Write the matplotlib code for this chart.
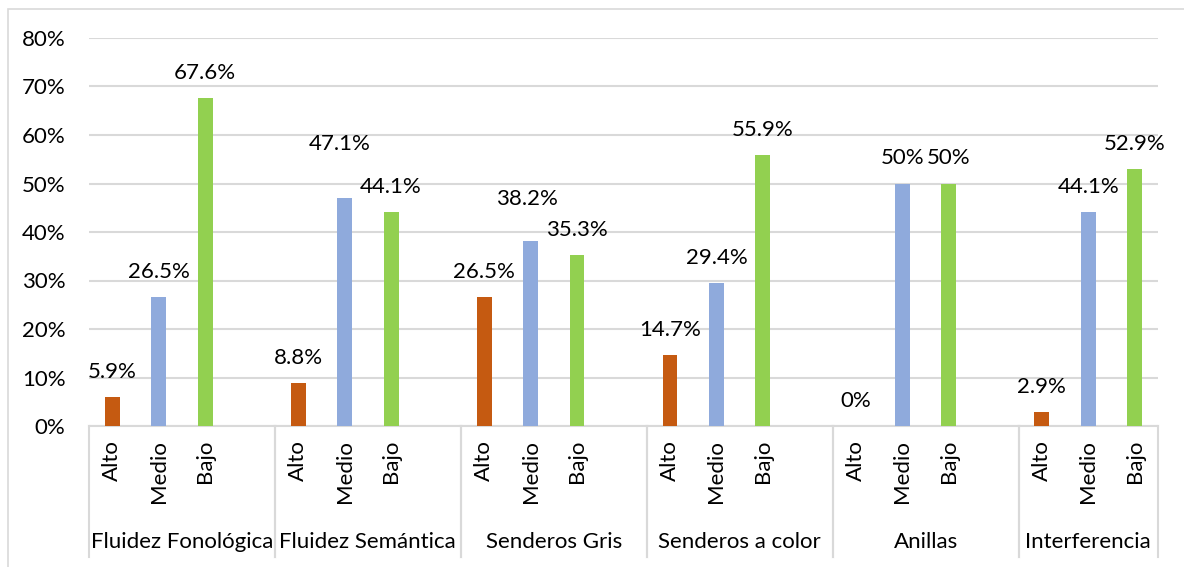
import numpy as np
import matplotlib
matplotlib.use('Agg')
import matplotlib.pyplot as plt
from matplotlib.patches import Rectangle
from matplotlib.lines import Line2D

# data
groups = ['Fluidez Fonológica', 'Fluidez Semántica', 'Senderos Gris',
          'Senderos a color', 'Anillas', 'Interferencia']
levels = ['Alto', 'Medio', 'Bajo']
alto = [5.9, 8.8, 26.5, 14.7, 0.0, 2.9]
medio = [26.5, 47.1, 38.2, 29.4, 50.0, 44.1]
bajo = [67.6, 44.1, 35.3, 55.9, 50.0, 52.9]
label_text = [['5.9%', '26.5%', '67.6%'],
              ['8.8%', '47.1%', '44.1%'],
              ['26.5%', '38.2%', '35.3%'],
              ['14.7%', '29.4%', '55.9%'],
              ['0%', '50%', '50%'],
              ['2.9%', '44.1%', '52.9%']]
# extra nudges of the data labels (pixels), as placed in the original
label_nudge = {(1, 1): (-5, 29), (2, 1): (-4, 17)}

colors = ['#C55A11', '#8FAADC', '#92D050']
FONT = 'Lato'
FS = 16

W, H = 1184, 567
fig = plt.figure(figsize=(W / 100, H / 100), dpi=100)
L, R, T, B = 89, 1158, 38, 426
ax = fig.add_axes([L / W, 1 - B / H, (R - L) / W, (B - T) / H])

# outer chart border
fig.add_artist(Rectangle((8 / W, -0.1), 1.2, 1 - 9 / H + 0.1, transform=fig.transFigure,
                         fill=False, edgecolor='#d9d9d9', lw=1.2))

series = [alto, medio, bajo]
nslots = len(groups) * 4 - 1
for s, vals in enumerate(series):
    x = np.arange(len(groups)) * 4 + s
    ax.bar(x, np.array(vals) / 100, width=0.32, color=colors[s], zorder=3)
    for g, v in enumerate(vals):
        dx, dy = label_nudge.get((g, s), (0, 0))
        ax.annotate(label_text[g][s], (x[g], v / 100), xytext=(dx, 25 + dy),
                    textcoords='offset pixels', ha='center', va='center',
                    fontsize=FS, family=FONT, color='#000000')

ax.set_xlim(-0.5, nslots - 0.5)
ax.set_ylim(0, 0.8)
ax.set_yticks(np.arange(0, 0.81, 0.1))
ax.set_yticklabels(['%d%%' % round(t * 100) for t in np.arange(0, 0.81, 0.1)],
                   fontsize=FS, family=FONT)
ax.tick_params(axis='y', length=0, pad=17)
ax.set_xticks([])
ax.grid(axis='y', color='#d9d9d9', lw=1.5, zorder=0)
for sp in ['top', 'right', 'left']:
    ax.spines[sp].set_visible(False)
ax.spines['bottom'].set_color('#d9d9d9')
ax.spines['bottom'].set_linewidth(1.5)

# multi-level category axis
axh = B - T
sep_bottom = -131 / axh
for g, name in enumerate(groups):
    for s, lev in enumerate(levels):
        ax.annotate(lev, (g * 4 + s, 0), xycoords=('data', 'axes fraction'),
                    xytext=(0, -14), textcoords='offset pixels', rotation=90,
                    ha='center', va='top', fontsize=FS, family=FONT)
    left_edge = g * 4 - 0.5
    right_edge = min(g * 4 + 3.5, nslots - 0.5)
    ax.annotate(name, ((left_edge + right_edge) / 2, 0), xycoords=('data', 'axes fraction'),
                xytext=(0, -116), textcoords='offset pixels', ha='center', va='center',
                fontsize=FS, family=FONT)
    for xe in [left_edge, right_edge]:
        ax.add_line(Line2D([xe, xe], [0, sep_bottom], transform=ax.get_xaxis_transform(),
                           color='#d9d9d9', lw=1.5, clip_on=False))

fig.savefig('out.png', dpi=100)
